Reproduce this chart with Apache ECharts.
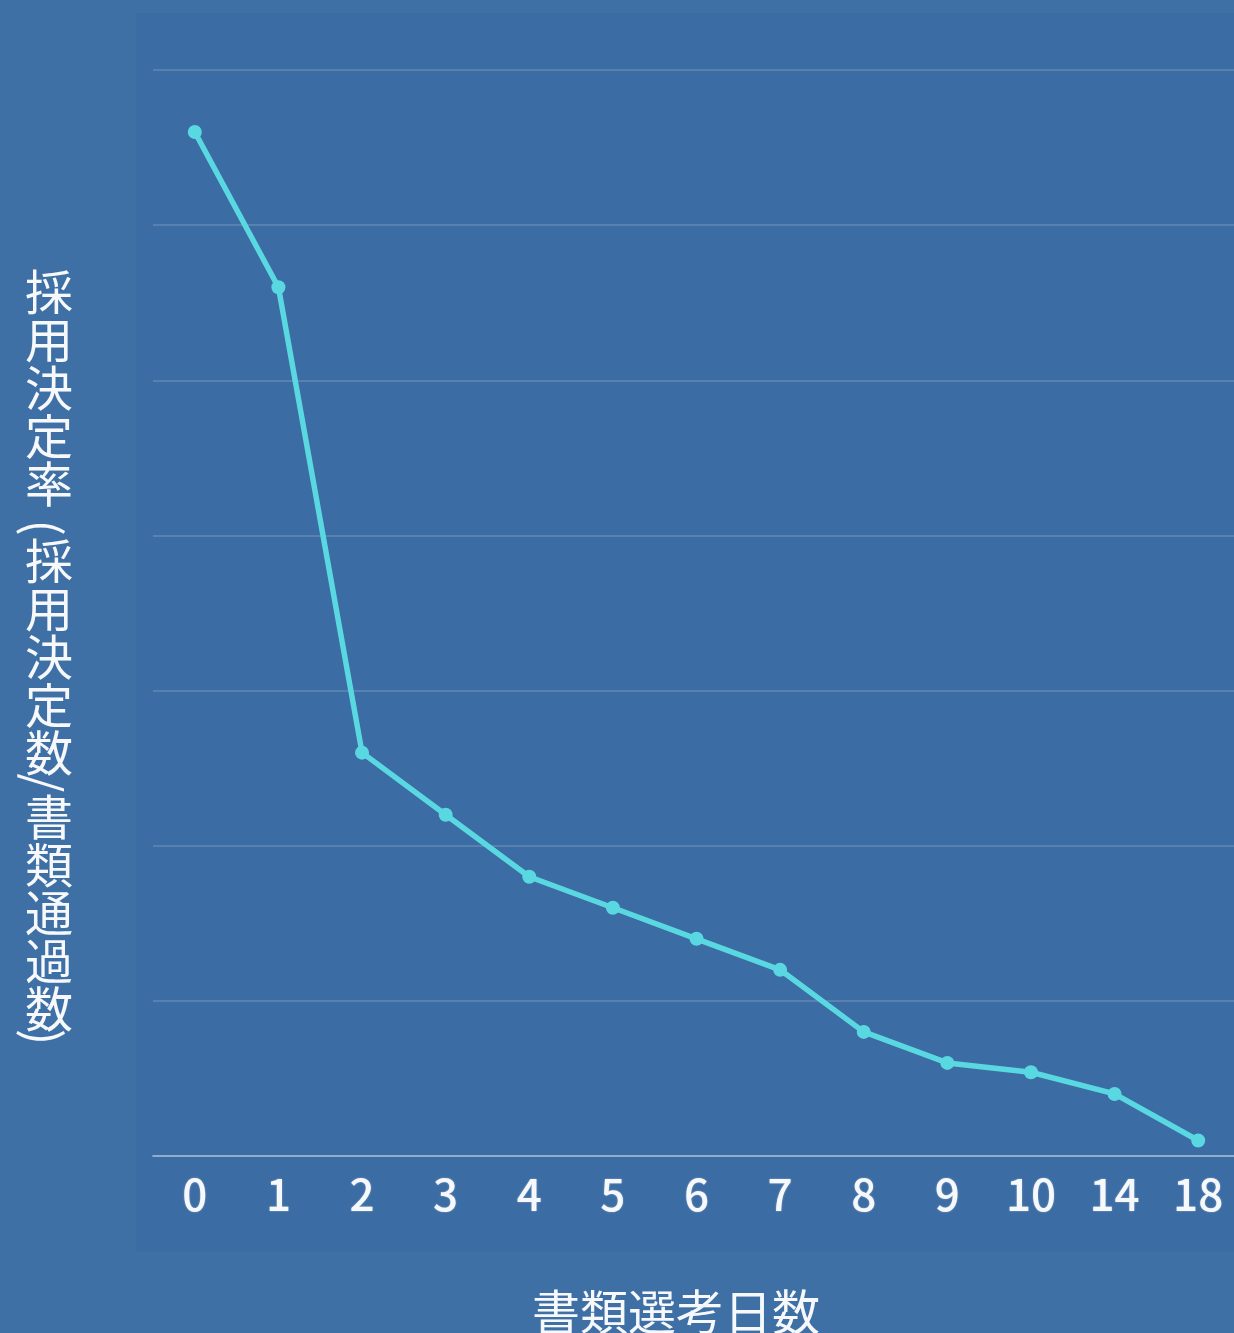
<!DOCTYPE html>
<html lang="ja">
<head>
<meta charset="utf-8">
<title>書類選考日数と採用決定率</title>
<script src="https://cdn.jsdelivr.net/npm/echarts@6/dist/echarts.min.js"></script>
<style>
  html, body { margin: 0; padding: 0; background: #3e70a5; }
  #chart { width: 1234px; height: 1333px; }
</style>
</head>
<body>
<div id="chart"></div>
<script>
// 書類選考にかかった日数ごとの採用決定率（%）
const days = ['0', '1', '2', '3', '4', '5', '6', '7', '8', '9', '10', '14', '18'];
const hireRate = [33, 28, 13, 11, 9, 8, 7, 6, 4, 3, 2.7, 2, 0.5];

const xTitle = '書類選考日数';
const yTitle = '採用決定率(採用決定数/書類通過数)';

const FONT = '"Noto Sans CJK JP", "Noto Sans", sans-serif';
const TEXT_COLOR = '#f6f8fb';
const LINE_COLOR = '#5ad8e1';

// 縦書きの軸タイトル：漢字は正立、記号は90°回転させて詰めて並べる
function verticalTitle(text, cx, top) {
  const narrow = { '(': 29, '/': 16, ')': 20 };
  const nudge = { '(': [-5, 5], '/': [-5, -2], ')': [-5, -6] };
  const els = [];
  let cursor = top;
  for (const ch of text) {
    const adv = narrow[ch] || 48;
    const off = nudge[ch] || [0, 0];
    els.push({
      type: 'text',
      x: cx + off[0],
      y: cursor + adv / 2 + off[1],
      rotation: narrow[ch] ? -Math.PI / 2 : 0,
      silent: true,
      style: {
        x: 0, y: 0,
        text: ch,
        fill: TEXT_COLOR,
        font: '48px ' + FONT,
        align: 'center',
        verticalAlign: 'middle'
      }
    });
    cursor += adv;
  }
  return els;
}

const chart = echarts.init(document.getElementById('chart'));

chart.setOption({
  backgroundColor: '#3e70a5',
  animation: false,
  // プロット領域は右端で画面外へ少しはみ出す
  grid: {
    left: 153, width: 1087, top: 70, bottom: 177,
    containLabel: false, outerBoundsMode: 'none'
  },
  graphic: {
    elements: [
      {
        type: 'rect', z: -10, silent: true,
        shape: { x: 136, y: 13, width: 1110, height: 1239 },
        style: { fill: '#3b6ca3' }
      },
      {
        type: 'text', x: 676, y: 1312, silent: true,
        style: {
          text: xTitle, fill: TEXT_COLOR, font: '48px ' + FONT,
          align: 'center', verticalAlign: 'middle'
        }
      },
      ...verticalTitle(yTitle, 49, 268)
    ]
  },
  xAxis: {
    type: 'category',
    data: days,
    boundaryGap: true,
    axisTick: { show: false },
    axisLine: { show: true, lineStyle: { color: 'rgba(255,255,255,0.35)', width: 2 } },
    axisLabel: {
      color: TEXT_COLOR, fontSize: 44, fontFamily: FONT, fontWeight: 500, margin: 16,
      interval: 0,
      textShadowColor: 'rgba(255,255,255,0.45)', textShadowBlur: 2
    },
    splitLine: { show: false }
  },
  yAxis: {
    type: 'value',
    min: 0, max: 35, interval: 5,
    axisLabel: { show: false },
    axisLine: { show: false },
    axisTick: { show: false },
    splitLine: { show: true, lineStyle: { color: 'rgba(255,255,255,0.15)', width: 2 } }
  },
  series: [{
    type: 'line',
    data: hireRate,
    symbol: 'circle',
    symbolSize: 14,
    lineStyle: { color: LINE_COLOR, width: 5.5 },
    itemStyle: { color: LINE_COLOR },
    z: 5
  }]
});
</script>
</body>
</html>
